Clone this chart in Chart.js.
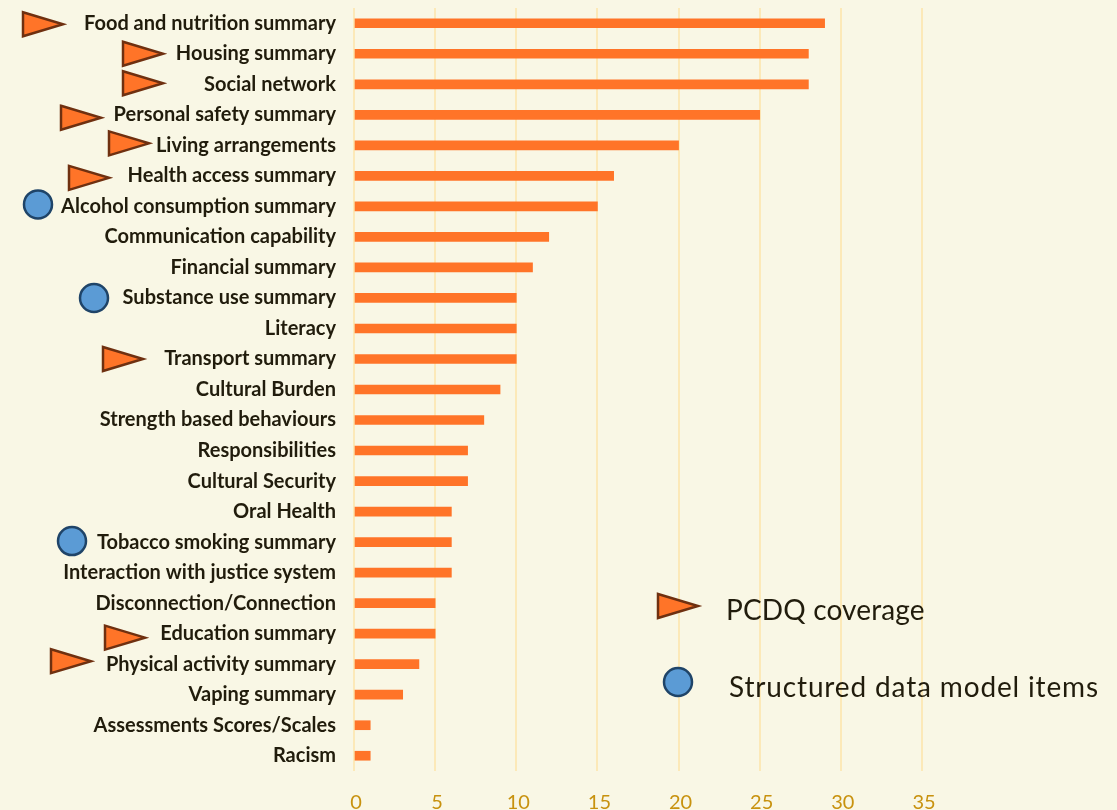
<!DOCTYPE html>
<html>
<head>
<meta charset="utf-8">
<title>Topic coverage</title>
<script src="https://cdn.jsdelivr.net/npm/chart.js@4"></script>
<style>
    html, body { margin: 0; padding: 0; background: #f9f7e5; overflow: hidden; }
    canvas { display: block; }
</style>
</head>
<body>
<canvas id="myChart" width="1117" height="810"></canvas>
<script>
// categories, top to bottom
const categories = [
    'Food and nutrition summary', 'Housing summary', 'Social network', 'Personal safety summary',
    'Living arrangements', 'Health access summary', 'Alcohol consumption summary', 'Communication capability',
    'Financial summary', 'Substance use summary', 'Literacy', 'Transport summary', 'Cultural Burden',
    'Strength based behaviours', 'Responsibilities', 'Cultural Security', 'Oral Health',
    'Tobacco smoking summary', 'Interaction with justice system', 'Disconnection/Connection',
    'Education summary', 'Physical activity summary', 'Vaping summary', 'Assessments Scores/Scales', 'Racism'
];
// number of times each category was found
const counts = [29, 28, 28, 25, 20, 16, 15, 12, 11, 10, 10, 10, 9, 8, 7, 7, 6, 6, 6, 5, 5, 4, 3, 1, 1];
const xTicks = [0, 5, 10, 15, 20, 25, 30, 35];
// which categories carry which marker
const pcdqItems = ['Food and nutrition summary', 'Housing summary', 'Social network', 'Personal safety summary',
    'Living arrangements', 'Health access summary', 'Transport summary', 'Education summary', 'Physical activity summary'];
const structuredItems = ['Alcohol consumption summary', 'Substance use summary', 'Tobacco smoking summary'];
const legendLabels = ['PCDQ coverage', 'Structured data model items'];

// where the hand placed markers sit: left edge in px, shift from the row centre
const markerSpots = {
    'Food and nutrition summary': [23, 1],
    'Housing summary': [123, 0],
    'Social network': [123, -1],
    'Personal safety summary': [61, 3],
    'Living arrangements': [109, -2],
    'Health access summary': [69, 2],
    'Transport summary': [103, 0],
    'Education summary': [105, 4],
    'Physical activity summary': [51, -3],
    'Alcohol consumption summary': [24, -2],
    'Substance use summary': [80, 0],
    'Tobacco smoking summary': [58, -1]
};

function drawTriangle(c, x, y) {
    c.beginPath();
    c.moveTo(x, y - 12);
    c.lineTo(x + 40, y);
    c.lineTo(x, y + 12);
    c.closePath();
    c.fillStyle = '#ff7428';
    c.strokeStyle = '#6f3010';
    c.lineWidth = 2.5;
    c.fill();
    c.stroke();
}

function drawCircle(c, x, y) {
    c.beginPath();
    c.arc(x + 14, y, 14, 0, Math.PI * 2);
    c.fillStyle = '#5b9bd5';
    c.strokeStyle = '#1f4468';
    c.lineWidth = 2.5;
    c.fill();
    c.stroke();
}

// draws the markers next to the labels and the little legend in the plot
const markers = {
    id: 'markers',
    afterDraw(chart) {
        const c = chart.ctx;
        const y = chart.scales.y;
        c.save();
        pcdqItems.forEach(name => {
            const spot = markerSpots[name];
            drawTriangle(c, spot[0], y.getPixelForValue(categories.indexOf(name)) + spot[1]);
        });
        structuredItems.forEach(name => {
            const spot = markerSpots[name];
            drawCircle(c, spot[0], y.getPixelForValue(categories.indexOf(name)) + spot[1]);
        });
        drawTriangle(c, 658, 606);
        drawCircle(c, 664, 682);
        c.fillStyle = '#211c0c';
        c.font = '28px Lato';
        c.textBaseline = 'middle';
        c.textAlign = 'left';
        c.letterSpacing = '0.15px';
        c.fillText(legendLabels[0], 726, 611);
        c.letterSpacing = '0.85px';
        c.fillText(legendLabels[1], 729, 688);
        c.restore();
    }
};

new Chart(document.getElementById('myChart'), {
    type: 'bar',
    data: {
        labels: categories,
        datasets: [{
            data: counts,
            backgroundColor: '#ff7428',
            barThickness: 9
        }]
    },
    options: {
        indexAxis: 'y',
        responsive: false,
        animation: false,
        layout: { padding: { top: 8, right: 195, left: 0, bottom: 0 } },
        plugins: { legend: { display: false }, tooltip: { enabled: false } },
        scales: {
            x: {
                min: 0,
                max: 35,
                afterFit(axis) { axis.height = 39 },
                afterBuildTicks(axis) { axis.ticks = xTicks.map(v => ({ value: v })) },
                border: { display: false },
                grid: { color: '#fce9b8', lineWidth: 2, drawTicks: false },
                ticks: { color: '#c8920f', font: { family: 'Lato', size: 20 }, padding: 20, labelOffset: 2, maxRotation: 0 }
            },
            y: {
                // the label padding would otherwise push the plot down from the top
                afterFit(axis) {
                    axis.width = 354
                    axis.paddingTop = 0
                    axis.paddingBottom = 0
                },
                border: { display: false },
                grid: { display: false },
                ticks: {
                    color: '#211c0c',
                    font: { family: 'Lato', size: 20, weight: 'bold' },
                    padding: 10,
                    autoSkip: false
                }
            }
        }
    },
    plugins: [markers]
});
</script>
</body>
</html>
